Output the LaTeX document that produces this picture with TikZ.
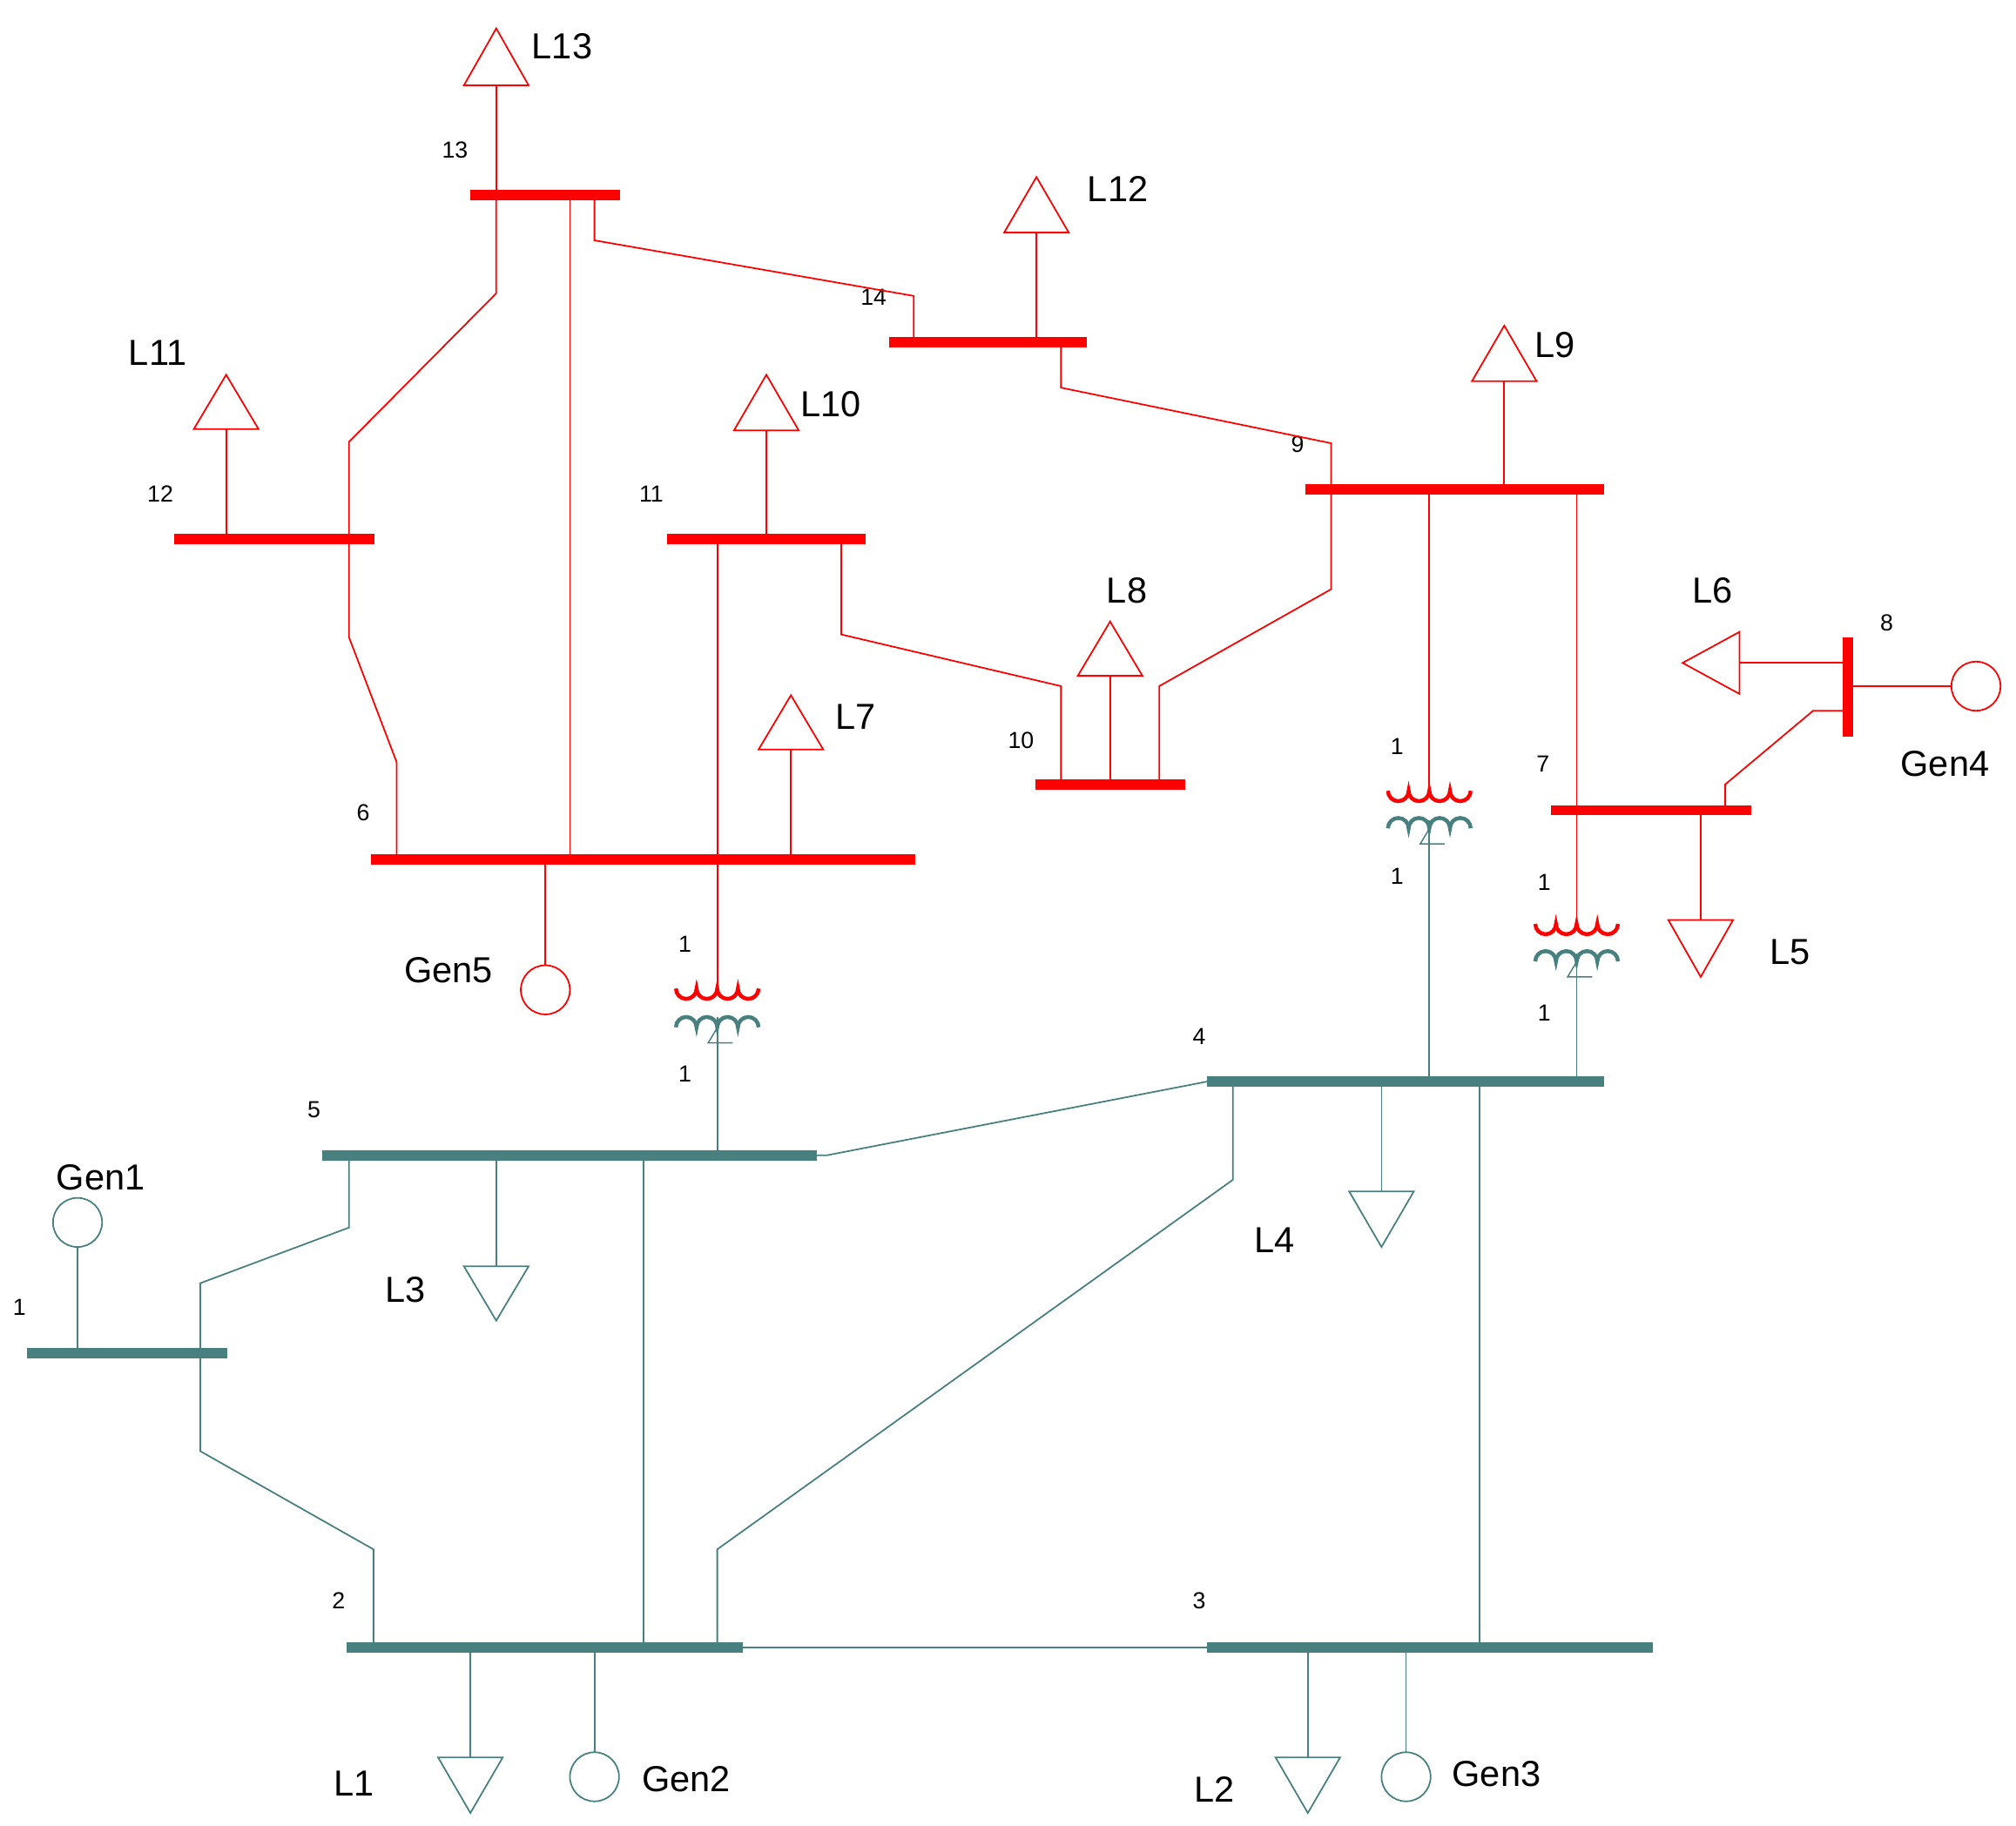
\documentclass[tikz,border=0pt]{standalone}
\usepackage{fontspec}
\setmainfont{Liberation Sans}
\begin{document}
\definecolor{tl}{RGB}{72,128,128}
\begin{tikzpicture}[x=1pt,y=-1pt,
  rl/.style={red,line width=1.2pt},
  tln/.style={tl,line width=1.2pt},
  rbus/.style={red,line width=8pt},
  tbus/.style={tl,line width=8pt},
  lab/.style={font=\fontsize{28}{30}\selectfont,inner sep=0pt},
  num/.style={font=\fontsize{18}{20}\selectfont,inner sep=0pt},
  one/.style={font=\fontsize{18}{20}\selectfont,inner sep=0pt}]
\useasboundingbox (0,0) rectangle (1560,1413);
% buses
\draw[rbus] (364,151) coordinate(b13a) -- (480,151);
\draw[rbus] (688,265) -- (841,265);
\draw[rbus] (135,417) -- (290,417);
\draw[rbus] (516,417) -- (670,417);
\draw[rbus] (1010,379) -- (1241,379);
\draw[rbus] (801,607) -- (917,607);
\draw[rbus] (287,665) -- (708,665);
\draw[rbus] (1200,627) -- (1355,627);
\draw[rbus] (1430,493) -- (1430,570);
\draw[tbus] (934,837) -- (1241,837);
\draw[tbus] (249,894) -- (632,894);
\draw[tbus] (21,1047) -- (176,1047);
\draw[tbus] (268,1275) -- (575,1275);
\draw[tbus] (934,1275) -- (1279,1275);
% bus numbers
\foreach \t/\x/\y in {13/352/116,14/676/230,12/124/382,11/504/382,9/1004/344,10/790/573,6/281/629,7/1194/591,8/1460/482,4/928/802,5/243/859,1/15/1012,2/262/1239,3/928/1239}
  \node[num] (n\t) at (\x,\y) {\t};
% red lines
\draw[rl] (460,151) -- (460,186) -- (707,229) -- (707,265);
\draw[rl] (384,151) -- (384,227) -- (270,342) -- (270,493) -- (307,590) -- (307,665);
\draw[rl] (441,151) -- (441,665);
\draw[rl] (555,417) -- (555,765);
\draw[rl] (651,417) -- (651,491) -- (821,531) -- (821,607);
\draw[rl] (821,265) -- (821,300) -- (1030,343) -- (1030,379);
\draw[rl] (1030,379) -- (1030,456) -- (897,531) -- (897,607);
\draw[rl] (1106,379) -- (1106,612);
\draw[rl] (1220,379) -- (1220,715);
\draw[rl] (1335,627) -- (1335,607) -- (1403,550) -- (1430,550);
% teal lines
\draw[tln] (632,894) -- (640,894) -- (934,837);
\draw[tln] (270,894) -- (270,950) -- (155,993) -- (155,1047);
\draw[tln] (155,1047) -- (155,1123) -- (289,1199) -- (289,1275);
\draw[tln] (498,894) -- (498,1275);
\draw[tln] (954,837) -- (954,913) -- (555,1199) -- (555,1275);
\draw[tln] (1145,837) -- (1145,1275);
\draw[tln] (575,1275) -- (934,1275);
\draw[tln] (555,787) -- (555,894);
\draw[tln] (1106,635) -- (1106,837);
\draw[tln] (1220,738) -- (1220,837);
% transformers
\foreach \x/\ya/\yb in {555/765/795,1106/612/641,1220/715/744}{
  \draw[red,line width=3pt] (\x-32,\ya) arc[start angle=180,end angle=0,radius=8]
     arc[start angle=180,end angle=0,radius=8] arc[start angle=180,end angle=0,radius=8]
     arc[start angle=180,end angle=0,radius=8];
  \draw[tl,line width=3pt] (\x-32,\yb) arc[start angle=180,end angle=360,radius=8]
     arc[start angle=180,end angle=360,radius=8] arc[start angle=180,end angle=360,radius=8]
     arc[start angle=180,end angle=360,radius=8];
  \draw[tl,line width=1pt] (\x+2,\yb-3) -- (\x-7,\yb+12) -- (\x+12,\yb+12);
}
\foreach \x/\y [count=\i] in {530/731,530/831,1081/578,1081/678,1195/683,1195/784}
  \node[one] (one\i) at (\x,\y) {1};
% red loads (up)
\foreach \n/\x/\ya/\yb/\yc in {13/384/22/66/151,12/802/137/180/265,11/175/290/332/417,10/593/290/333/417,9/1164/252/295/379,8/859/481/523/607,7/612/538/580/665}{
  \draw[rl] (\x,\yb) -- (\x,\yc);
  \draw[rl] (\x,\ya) -- (\x-25,\yb) -- (\x+25,\yb) -- cycle;
}
% L6
\draw[rl] (1346,513) -- (1430,513);
\draw[rl] (1302,513) -- (1346,489) -- (1346,537) -- cycle;
% L5
\draw[rl] (1316,627) -- (1316,712);
\draw[rl] (1316,756) -- (1291,712) -- (1341,712) -- cycle;
% teal loads (down)
\foreach \x/\ya/\yb/\yc in {384/980/1022/894,1069/922/965/837,364/1360/1403/1275,1012/1360/1403/1275}{
  \draw[tln] (\x,\yc) -- (\x,\ya);
  \draw[tln] (\x,\yb) -- (\x-25,\ya) -- (\x+25,\ya) -- cycle;
}
% generators
\draw[rl] (422,665) -- (422,747);
\node[draw=red,line width=1.2pt,circle,minimum size=38pt,inner sep=0pt] (g5) at (422,766) {};
\draw[rl] (1430,531) -- (1510,531);
\node[draw=red,line width=1.2pt,circle,minimum size=38pt,inner sep=0pt] (g4) at (1529,531) {};
\draw[tln] (60,965) -- (60,1047);
\node[draw=tl,line width=1.2pt,circle,minimum size=38pt,inner sep=0pt] (g1) at (60,946) {};
\draw[tln] (460,1275) -- (460,1356);
\node[draw=tl,line width=1.2pt,circle,minimum size=38pt,inner sep=0pt] (g2) at (460,1375) {};
\draw[tln] (1088,1275) -- (1088,1356);
\node[draw=tl,line width=1.2pt,circle,minimum size=38pt,inner sep=0pt] (g3) at (1088,1375) {};
% labels
\foreach \t/\x/\y in {L13/435/36,L12/865/146,L11/122/273,L10/643/313,L9/1203/267,L8/872/457,L7/662/555,L6/1325/457,L5/1385/737,L3/314/998,L4/986/960,L1/274/1380,L2/940/1385,Gen5/347/751,Gen4/1505/591,Gen1/78/911,Gen2/531/1377,Gen3/1158/1373}
  \node[lab] (t\t) at (\x,\y) {\t};
\end{tikzpicture}
\end{document}
